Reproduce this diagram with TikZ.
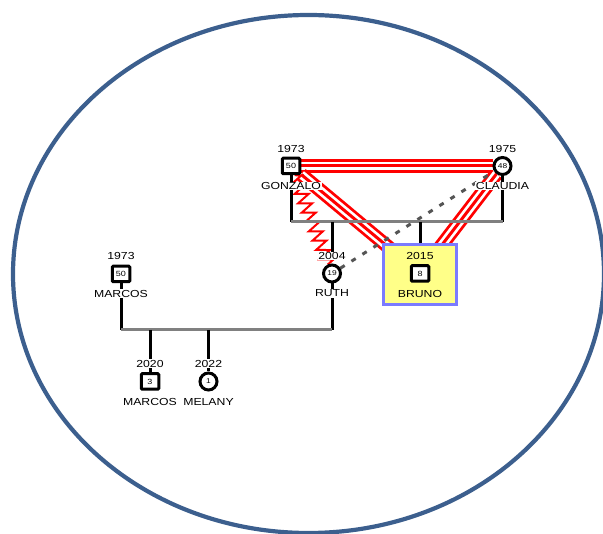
\documentclass[tikz,border=0pt]{standalone}
\usepackage{fontspec}
\setmainfont{Liberation Sans}[FakeStretch=1.2]
\usetikzlibrary{decorations.pathmorphing,backgrounds}
\definecolor{rim}{HTML}{3C5F8E}
\definecolor{boxfill}{HTML}{FFFF88}
\definecolor{boxline}{HTML}{7B7BFF}
\definecolor{barcol}{HTML}{808080}
\definecolor{distantcol}{HTML}{555555}
\begin{document}
\begin{tikzpicture}[x=1pt,y=-1pt,
  male/.style={draw, line width=3pt, fill=white, minimum width=17.5pt, minimum height=15.5pt,
    inner sep=0pt, rounded corners=1pt, font=\fontsize{7.5}{7.5}\selectfont},
  female/.style={draw, circle, line width=3pt, fill=white, minimum size=17pt,
    inner sep=0pt, font=\fontsize{7}{7}\selectfont},
  lbl/.style={fill=white, inner sep=0.6pt, font=\fontsize{10.2}{10.2}\selectfont},
  lblplain/.style={inner sep=0.6pt, font=\fontsize{10.2}{10.2}\selectfont},
  kin/.style={draw=black, line width=3pt},
  union/.style={draw=barcol, line width=3pt},
  fused/.style={draw=red, line width=14pt,
    postaction={draw=white, line width=8.4pt},
    postaction={draw=red, line width=3pt}},
  hostile/.style={draw=red, line width=2pt, decorate,
    decoration={zigzag, segment length=10pt, amplitude=6.5pt}},
  distant/.style={draw=distantcol, line width=3pt, dash pattern=on 5pt off 8pt}
]
\useasboundingbox (0,0) rectangle (603,534);

% Bruno's highlight box
\node[draw=boxline, fill=boxfill, line width=3pt, minimum width=73pt, minimum height=60pt,
  inner sep=0pt] (brunobox) at (420,274.5) {};

% people
\node[male] (gon) at (291,166) {50};
\node[lbl] (gonyear) at (291,148.5) {1973};
\node[lbl] (gonname) at (291,186) {GONZALO};

\node[female] (cla) at (502.5,166) {48};
\node[lbl] (clayear) at (502.5,148.5) {1975};
\node[lbl] (claname) at (502.5,186) {CLAUDIA};

\node[female] (ruth) at (332,273.5) {19};
\node[lbl] (ruthyear) at (332,256) {2004};
\node[lbl] (ruthname) at (332,293.5) {RUTH};

\node[male] (bruno) at (420,273.5) {8};
\node[lblplain] (brunoyear) at (420,256) {2015};
\node[lblplain] (brunoname) at (420,293.5) {BRUNO};

\node[male] (marcos) at (121,274) {50};
\node[lbl] (marcosyear) at (121,256) {1973};
\node[lbl] (marcosname) at (121,293.5) {MARCOS};

\node[male] (mchild) at (150,381.5) {3};
\node[lbl] (mchildyear) at (150,363.5) {2020};
\node[lbl] (mchildname) at (150,401.5) {MARCOS};

\node[female] (mel) at (208.5,381.5) {1};
\node[lbl] (melyear) at (208.5,363.5) {2022};
\node[lbl] (melname) at (208.5,401.5) {MELANY};

\coordinate (upperbar) at (0,222);
\coordinate (lowerbar) at (0,330);

\begin{scope}[on background layer]
  % outer boundary
  \draw[rim, line width=4.2pt] (308.5,274) ellipse [x radius=295.5, y radius=259];

  % emotional relations
  \draw[fused] (gon) -- (cla);
  \draw[fused] (gon) -- (bruno);
  \draw[fused] (cla) -- (bruno);
  \draw[hostile] (gon) -- (ruth);
  \draw[distant] (ruth) -- (cla);

  % Gonzalo + Claudia family
  \draw[kin] (gon) -- (gon |- upperbar);
  \draw[kin] (cla) -- (cla |- upperbar);
  \draw[union] (gon |- upperbar) -- (cla |- upperbar);
  \draw[kin] (ruth |- upperbar) -- (ruthyear.north);
  \draw[kin] (brunobox |- upperbar) -- (brunobox.north);

  % Marcos + Ruth family
  \draw[kin] (marcos) -- (marcos |- lowerbar);
  \draw[kin] (ruth) -- (ruth |- lowerbar);
  \draw[union] (marcos |- lowerbar) -- (ruth |- lowerbar);
  \draw[kin] (mchild |- lowerbar) -- (mchild);
  \draw[kin] (mel |- lowerbar) -- (mel);
\end{scope}
\end{tikzpicture}
\end{document}
